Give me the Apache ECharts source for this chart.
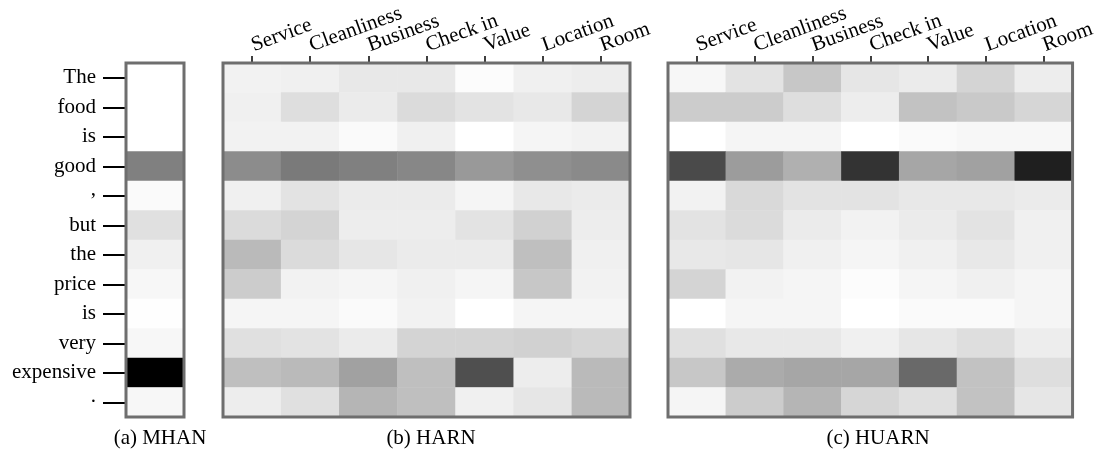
<!DOCTYPE html>
<html>
<head>
<meta charset="utf-8">
<script src="https://cdn.jsdelivr.net/npm/echarts@6/dist/echarts.min.js"></script>
<style>
html,body{margin:0;padding:0;background:#fff;}
#c{width:1098px;height:452px;}
</style>
</head>
<body>
<div id="c"></div>
<script>
// ---- data (attention intensity 0 = white, 1 = black) ----
var tokens = ["The", "food", "is", "good", ",", "but", "the", "price", "is", "very", "expensive", "."];
var aspects = ["Service", "Cleanliness", "Business", "Check in", "Value", "Location", "Room"];
var panelTitles = ["(a) MHAN", "(b) HARN", "(c) HUARN"];

var mhan = [0, 0, 0, 0.50, 0.02, 0.12, 0.06, 0.03, 0.005, 0.03, 1.0, 0.03];

var harn = [
  [0.05, 0.06, 0.09, 0.09, 0.01, 0.06, 0.07],
  [0.06, 0.13, 0.08, 0.14, 0.11, 0.09, 0.17],
  [0.05, 0.05, 0.02, 0.06, 0.00, 0.04, 0.05],
  [0.45, 0.52, 0.50, 0.47, 0.40, 0.44, 0.46],
  [0.06, 0.11, 0.08, 0.08, 0.04, 0.09, 0.08],
  [0.14, 0.17, 0.07, 0.07, 0.11, 0.18, 0.07],
  [0.27, 0.14, 0.10, 0.08, 0.08, 0.25, 0.06],
  [0.20, 0.05, 0.04, 0.06, 0.04, 0.22, 0.05],
  [0.04, 0.04, 0.02, 0.05, 0.00, 0.04, 0.04],
  [0.12, 0.11, 0.08, 0.17, 0.17, 0.18, 0.16],
  [0.25, 0.27, 0.37, 0.25, 0.69, 0.07, 0.27],
  [0.07, 0.12, 0.29, 0.25, 0.06, 0.10, 0.27]
];

var huarn = [
  [0.03, 0.11, 0.22, 0.10, 0.08, 0.17, 0.07],
  [0.20, 0.20, 0.13, 0.07, 0.24, 0.21, 0.16],
  [0.00, 0.04, 0.04, 0.00, 0.02, 0.03, 0.03],
  [0.71, 0.39, 0.31, 0.80, 0.35, 0.37, 0.88],
  [0.05, 0.15, 0.11, 0.11, 0.09, 0.09, 0.08],
  [0.11, 0.14, 0.08, 0.05, 0.08, 0.11, 0.06],
  [0.09, 0.10, 0.06, 0.04, 0.06, 0.09, 0.06],
  [0.17, 0.05, 0.04, 0.01, 0.04, 0.06, 0.04],
  [0.00, 0.04, 0.04, 0.00, 0.02, 0.02, 0.04],
  [0.12, 0.09, 0.09, 0.06, 0.10, 0.13, 0.07],
  [0.22, 0.33, 0.35, 0.35, 0.59, 0.24, 0.13],
  [0.04, 0.20, 0.29, 0.16, 0.12, 0.24, 0.10]
];

// ---- build ----
function toCells(matrix) {
  var out = [];
  for (var r = 0; r < matrix.length; r++) {
    for (var c = 0; c < matrix[r].length; c++) out.push([c, r, matrix[r][c]]);
  }
  return out;
}
var mhanCells = mhan.map(function (v, r) { return [0, r, v]; });

var FONT = "Liberation Serif";
var txt = { fontFamily: FONT, fontSize: 21, color: "#000" };
var frame = { show: true, z: 5, backgroundColor: "transparent", borderColor: "#6e6e6e", borderWidth: 3 };

var grids = [
  Object.assign({ left: 126, top: 63, width: 58, height: 354 }, frame),
  Object.assign({ left: 223, top: 63, width: 407, height: 354 }, frame),
  Object.assign({ left: 668, top: 63, width: 409, height: 354 }, frame)
];

var topAxis = function (gi) {
  return {
    type: "category", gridIndex: gi, position: "top", data: aspects,
    axisLine: { show: false },
    axisTick: { show: true, alignWithLabel: true, length: 7, lineStyle: { color: "#000", width: 1.5 } },
    axisLabel: Object.assign({ interval: 0, rotate: -20, margin: 17 }, txt),
    splitLine: { show: false }
  };
};

var option = {
  animation: false,
  backgroundColor: "#fff",
  title: panelTitles.map(function (t, i) {
    return { text: t, left: [155, 426, 873][i], top: 423, textAlign: "center",
      textStyle: { fontFamily: FONT, fontSize: 21, fontWeight: "normal", color: "#000" } };
  }),
  grid: grids,
  xAxis: [
    { type: "category", gridIndex: 0, data: ["w"], show: false },
    topAxis(1),
    topAxis(2)
  ],
  yAxis: [
    {
      type: "category", gridIndex: 0, data: tokens, inverse: true,
      axisLine: { show: false },
      axisTick: { show: true, alignWithLabel: true, length: 23, lineStyle: { color: "#000", width: 2 } },
      axisLabel: Object.assign({
        interval: 0, margin: 30,
        formatter: function (v) { return (v === "," || v === ".") ? "{p|" + v + "}" : v; },
        rich: { p: { fontFamily: FONT, fontSize: 21, color: "#000", padding: [0, 0, 12, 0] } }
      }, txt),
      splitLine: { show: false }
    },
    { type: "category", gridIndex: 1, data: tokens, inverse: true, show: false },
    { type: "category", gridIndex: 2, data: tokens, inverse: true, show: false }
  ],
  visualMap: {
    show: false, type: "continuous", min: 0, max: 1, dimension: 2,
    seriesIndex: [0, 1, 2], inRange: { color: ["#ffffff", "#000000"] }
  },
  series: [
    { type: "heatmap", xAxisIndex: 0, yAxisIndex: 0, data: mhanCells, itemStyle: { borderWidth: 0 } },
    { type: "heatmap", xAxisIndex: 1, yAxisIndex: 1, data: toCells(harn), itemStyle: { borderWidth: 0 } },
    { type: "heatmap", xAxisIndex: 2, yAxisIndex: 2, data: toCells(huarn), itemStyle: { borderWidth: 0 } }
  ]
};

var chart = echarts.init(document.getElementById("c"), null, { renderer: "canvas" });
chart.setOption(option);
</script>
</body>
</html>
